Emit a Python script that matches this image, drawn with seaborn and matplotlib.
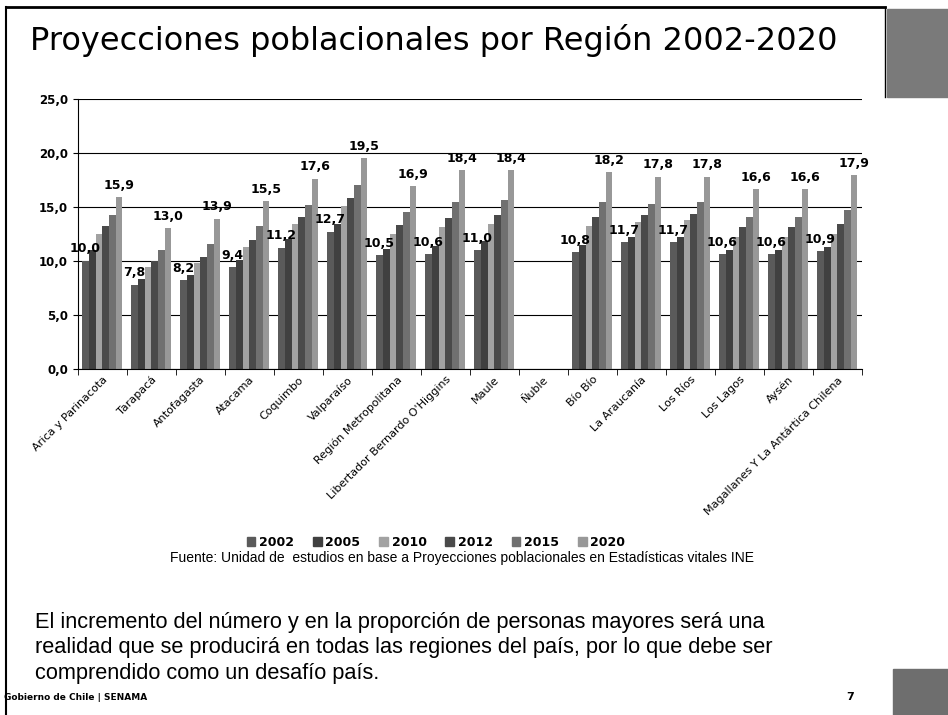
import numpy as np
import pandas as pd
import seaborn as sns
import matplotlib.pyplot as plt
from matplotlib.patches import Rectangle
from matplotlib.lines import Line2D

regiones = ["Arica y Parinacota", "Tarapacá", "Antofagasta", "Atacama", "Coquimbo",
            "Valparaíso", "Región Metropolitana", "Libertador Bernardo O'Higgins",
            "Maule", "Ñuble", "Bío Bío", "La Araucanía", "Los Ríos", "Los Lagos",
            "Aysén", "Magallanes Y La Antártica Chilena"]
anios = ["2002", "2005", "2010", "2012", "2015", "2020"]

v2002 = [10.0, 7.8, 8.2, 9.4, 11.2, 12.7, 10.5, 10.6, 11.0, np.nan, 10.8, 11.7, 11.7, 10.6, 10.6, 10.9]
v2005 = [11.0, 8.3, 8.7, 10.1, 12.0, 13.4, 11.1, 11.4, 11.8, np.nan, 11.5, 12.2, 12.2, 11.0, 11.0, 11.3]
v2010 = [12.5, 9.4, 9.8, 11.3, 13.4, 15.1, 12.5, 13.1, 13.4, np.nan, 13.2, 13.6, 13.8, 12.2, 12.2, 12.5]
v2012 = [13.2, 10.0, 10.4, 11.9, 14.1, 15.8, 13.3, 14.0, 14.2, np.nan, 14.1, 14.2, 14.3, 13.1, 13.1, 13.4]
v2015 = [14.2, 11.0, 11.6, 13.2, 15.2, 17.0, 14.5, 15.4, 15.6, np.nan, 15.4, 15.3, 15.4, 14.1, 14.1, 14.7]
v2020 = [15.9, 13.0, 13.9, 15.5, 17.6, 19.5, 16.9, 18.4, 18.4, np.nan, 18.2, 17.8, 17.8, 16.6, 16.6, 17.9]

series = [v2002, v2005, v2010, v2012, v2015, v2020]
df = pd.DataFrame({
    "region": regiones * len(anios),
    "anio": [a for a in anios for _ in regiones],
    "valor": [v for s in series for v in s],
})

colores = ["#5a5a5a", "#404040", "#a2a2a2", "#4a4a4a", "#707070", "#989898"]

fig = plt.figure(figsize=(9.48, 7.15), dpi=100)
ax = fig.add_axes([0.082, 0.484, 0.827, 0.378])

sns.barplot(data=df, x="region", y="valor", hue="anio", palette=colores,
            width=0.82, ax=ax, legend=False, saturation=1)

# etiquetas solo para 2002 y 2020 (seaborn omite la barra vacia de Ñuble)
for idx in [0, 5]:
    for bar in ax.containers[idx]:
        if bar is None:
            continue
        h = bar.get_height()
        if np.isnan(h):
            continue
        ax.text(bar.get_x() + bar.get_width() / 2, h + 0.5,
                f"{h:.1f}".replace(".", ","), ha="center", va="bottom",
                fontsize=9, fontweight="bold")

ax.set_ylim(0, 25)
ax.set_yticks([0, 5, 10, 15, 20, 25])
ax.set_yticklabels([f"{t:.1f}".replace(".", ",") for t in [0, 5, 10, 15, 20, 25]],
                   fontsize=8.5, fontweight="bold")
ax.set_xlim(-0.5, len(regiones) - 0.5)
ax.set_xticks(np.arange(len(regiones)))
ax.set_xticklabels(regiones, rotation=45, ha="right", rotation_mode="anchor", fontsize=8)
ax.tick_params(axis="x", length=0, pad=4)
ax.set_xticks(np.arange(len(regiones) + 1) - 0.5, minor=True)
ax.tick_params(axis="x", which="minor", length=4, color="black")
ax.set_xlabel("")
ax.set_ylabel("")
ax.yaxis.grid(True, color="black", linewidth=0.8)
ax.set_axisbelow(True)
for s in ["top", "right"]:
    ax.spines[s].set_visible(False)
ax.spines["left"].set_color("black")
ax.spines["bottom"].set_color("black")

# leyenda
handles = [Rectangle((0, 0), 1, 1, color=c) for c in colores]
fig.legend(handles, anios, loc="center", bbox_to_anchor=(0.46, 0.241), ncol=6,
           frameon=False, prop={"weight": "bold", "size": 9},
           handlelength=0.7, handleheight=0.7, handletextpad=0.3, columnspacing=1.5)

fig.text(0.487, 0.219, "Fuente: Unidad de  estudios en base a Proyecciones poblacionales en Estadísticas vitales INE",
         ha="center", va="center", fontsize=10, family="Liberation Sans")

fig.text(0.032, 0.943, "Proyecciones poblacionales por Región 2002-2020",
         ha="left", va="center", fontsize=23, family="DejaVu Sans")

fig.text(0.037, 0.094,
         "El incremento del número y en la proporción de personas mayores será una\n"
         "realidad que se producirá en todas las regiones del país, por lo que debe ser\n"
         "comprendido como un desafío país.",
         ha="left", va="center", fontsize=15.7, family="Liberation Sans", linespacing=1.28)

fig.text(0.004, 0.025, "Gobierno de Chile | SENAMA", ha="left", va="center",
         fontsize=6.5, fontweight="bold")
fig.text(0.897, 0.025, "7", ha="center", va="center", fontsize=8, fontweight="bold")

# marco de la diapositiva
fig.add_artist(Line2D([0.006, 0.934], [0.99, 0.99], color="black", linewidth=2))
fig.add_artist(Line2D([0.006, 0.006], [0.0, 0.99], color="black", linewidth=1.5))
fig.add_artist(Line2D([0.934, 0.934], [0.865, 0.99], color="black", linewidth=1))
fig.add_artist(Rectangle((0.936, 0.865), 0.064, 0.122, color="#7a7a7a"))
fig.add_artist(Rectangle((0.942, 0.0), 0.058, 0.065, color="#6e6e6e"))

fig.savefig("out.png", dpi=100)
